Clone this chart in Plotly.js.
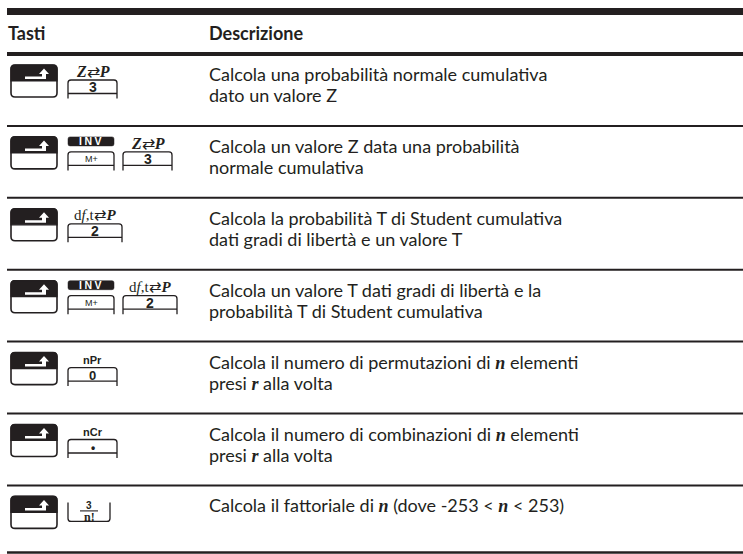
<!DOCTYPE html>
<html><head><meta charset="utf-8">
<script src="https://cdn.plot.ly/plotly-3.0.1.min.js"></script>
<style>html,body{margin:0;padding:0;background:#fff}</style>
</head><body><div id="chart" style="width:743px;height:554px"></div>
<script>
// ---------- data ----------
const headers = ["Tasti", "Descrizione"];
const descLine1 = [
  "Calcola una probabilità normale cumulativa",
  "Calcola un valore Z data una probabilità",
  "Calcola la probabilità T di Student cumulativa",
  "Calcola un valore T dati gradi di libertà e la",
  "Calcola il numero di permutazioni di *n* elementi",
  "Calcola il numero di combinazioni di *n* elementi",
  "Calcola il fattoriale di *n* (dove -253 &lt; *n* &lt; 253)"
];
const descLine2 = [
  "dato un valore Z",
  "normale cumulativa",
  "dati gradi di libertà e un valore T",
  "probabilità T di Student cumulativa",
  "presi *r* alla volta",
  "presi *r* alla volta",
  ""
];
const rowKeys = [
  ["shift", "z2p"],
  ["shift", "inv", "z2p"],
  ["shift", "dft"],
  ["shift", "inv", "dft"],
  ["shift", "npr"],
  ["shift", "ncr"],
  ["shift", "fact"]
];
const keyTopLabels = {
  z2p: "<b><i>Z</i></b>⇄<b><i>P</i></b>",
  dft: "d<i>f</i>,t⇄<b><i>P</i></b>",
  npr: "<b>nPr</b>",
  ncr: "<b>nCr</b>",
  inv: "<b><span style=\"letter-spacing:2.5px\">INV</span></b>",
  fact: "<b>3</b>"
};
const keyCapLabels = {
  z2p: "<b>3</b>", dft: "<b>2</b>", npr: "<b>0</b>", ncr: "<b>•</b>", inv: "M+", fact: "<b>n!</b>"
};

// ---------- layout constants ----------
const W = 743, H = 554;
const INK = "#231f20";
const headerBottom = 54, rowH = 71.9, tableBottom = 552.5;
const slotX = [11, 68, 123];
const keyW = {shift: 46, inv: 46, z2p: 49, dft: 54, npr: 49, ncr: 49, fact: 42};
const topLabelDy = {z2p: 6.5, dft: 6.5, npr: 7.5, ncr: 7.5, inv: 4.5, fact: 9};
const capDy = {z2p: 22, dft: 22, npr: 23, ncr: 23, inv: 22, fact: 20.5};
const topLabelFont = {
  z2p: {family: "Liberation Serif", size: 16, color: INK},
  dft: {family: "Liberation Serif", size: 15, color: INK},
  npr: {family: "Liberation Sans", size: 11, color: INK},
  ncr: {family: "Liberation Sans", size: 11, color: INK},
  inv: {family: "Liberation Sans", size: 10.5, color: "#ffffff"},
  fact: {family: "Liberation Sans", size: 10, color: INK}
};
const capFont = {
  z2p: {family: "Liberation Sans", size: 14, color: INK},
  dft: {family: "Liberation Sans", size: 14, color: INK},
  npr: {family: "Liberation Sans", size: 13, color: INK},
  ncr: {family: "Liberation Sans", size: 12, color: INK},
  inv: {family: "Liberation Sans", size: 9, color: INK},
  fact: {family: "Liberation Serif", size: 12, color: INK}
};

const shapes = [];
const annotations = [];

function hline(y, w) {
  shapes.push({type: "line", xref: "x", yref: "y", x0: 7, x1: W, y0: y, y1: y,
    line: {color: INK, width: w}, layer: "above"});
}
function path(d, fill, lw) {
  shapes.push({type: "path", xref: "x", yref: "y", path: d,
    fillcolor: fill || "rgba(0,0,0,0)", line: {color: INK, width: lw === undefined ? 1.3 : lw}, layer: "above"});
}
function txt(x, y, text, font, xanchor) {
  annotations.push({xref: "x", yref: "y", x: x, y: y, text: text, showarrow: false,
    xanchor: xanchor || "center", yanchor: "middle", font: font, borderpad: 0});
}
function fmt(s) {
  return s.replace(/\*(\w)\*/g, '<span style="font-family:\'Liberation Serif\'"><b><i>$1</i></b></span>');
}

function drawKey(type, x0, T) {
  const w = keyW[type], x1 = x0 + w, r = 3;
  if (type === "shift") {
    const h = 32, R = 4;
    path(`M${x0},${T+R} Q${x0},${T} ${x0+R},${T} L${x1-R},${T} Q${x1},${T} ${x1},${T+R} L${x1},${T+h-R} Q${x1},${T+h} ${x1-R},${T+h} L${x0+R},${T+h} Q${x0},${T+h} ${x0},${T+h-R} Z`, "#ffffff", 1.6);
    path(`M${x0},${T+16} L${x0},${T+R} Q${x0},${T} ${x0+R},${T} L${x1-R},${T} Q${x1},${T} ${x1},${T+R} L${x1},${T+16} Z`, INK, 1.2);
    shapes.push({type: "path", xref: "x", yref: "y", layer: "above", fillcolor: "#ffffff", line: {width: 0},
      path: `M${x0+14},${T+11.5} L${x0+31},${T+11.5} L${x0+31},${T+9} L${x0+28},${T+9} L${x0+33},${T+3.5} L${x0+38},${T+9} L${x0+35},${T+9} L${x0+35},${T+14} L${x0+14},${T+14} Z`});
    return;
  }
  const cx = x0 + w / 2;
  if (type === "fact") {
    path(`M${x0},${T+6} L${x0},${T+22} Q${x0},${T+25} ${x0+r},${T+25} L${x1-r},${T+25} Q${x1},${T+25} ${x1},${T+22} L${x1},${T+6}`, null, 1.3);
    shapes.push({type: "line", xref: "x", yref: "y", x0: x0 + 12, x1: x0 + 30, y0: T + 14.5, y1: T + 14.5, line: {color: INK, width: 1.1}, layer: "above"});
    txt(cx, T + topLabelDy.fact, keyTopLabels.fact, topLabelFont.fact);
    txt(cx, T + capDy.fact, keyCapLabels.fact, capFont.fact);
    return;
  }
  path(`M${x0},${T+33.5} L${x0},${T+15+r} Q${x0},${T+15} ${x0+r},${T+15} L${x1-r},${T+15} Q${x1},${T+15} ${x1},${T+15+r} L${x1},${T+33.5}`, null, 1.3);
  shapes.push({type: "line", xref: "x", yref: "y", x0: x0, x1: x1, y0: T + 28.5, y1: T + 28.5, line: {color: INK, width: 1.3}, layer: "above"});
  if (type === "inv") {
    path(`M${x0+2},${T} L${x1-2},${T} Q${x1},${T} ${x1},${T+2} L${x1},${T+7} Q${x1},${T+9} ${x1-2},${T+9} L${x0+2},${T+9} Q${x0},${T+9} ${x0},${T+7} L${x0},${T+2} Q${x0},${T} ${x0+2},${T} Z`, INK, 0.5);
  }
  txt(cx, T + topLabelDy[type], keyTopLabels[type], topLabelFont[type]);
  txt(cx, T + capDy[type], keyCapLabels[type], capFont[type]);
}

// rules
hline(11.5, 7);
hline(headerBottom, 4);
for (let i = 1; i < descLine1.length; i++) hline(headerBottom + i * rowH, 2);
hline(tableBottom, 2.5);

// headers
const hFont = {family: "Lato", size: 18, color: INK};
txt(7, 33, "<b>" + headers[0] + "</b>", hFont, "left");
txt(208, 33, "<b>" + headers[1] + "</b>", hFont, "left");

// rows
const bodyFont = {family: "Lato", size: 18, color: INK};
descLine1.forEach((line, i) => {
  const top = headerBottom + i * rowH;
  txt(208, top + 20, fmt(line), bodyFont, "left");
  if (descLine2[i]) txt(208, top + 41, fmt(descLine2[i]), bodyFont, "left");
  const T = top + 11;
  rowKeys[i].forEach((k, j) => drawKey(k, slotX[j], T));
});

const layout = {
  width: W, height: H,
  margin: {l: 0, r: 0, t: 0, b: 0},
  paper_bgcolor: "#ffffff", plot_bgcolor: "#ffffff",
  xaxis: {range: [0, W], visible: false, fixedrange: true},
  yaxis: {range: [H, 0], visible: false, fixedrange: true},
  showlegend: false,
  shapes: shapes,
  annotations: annotations
};
Plotly.newPlot("chart", [], layout, {displayModeBar: false, staticPlot: true});
</script>
</body></html>
